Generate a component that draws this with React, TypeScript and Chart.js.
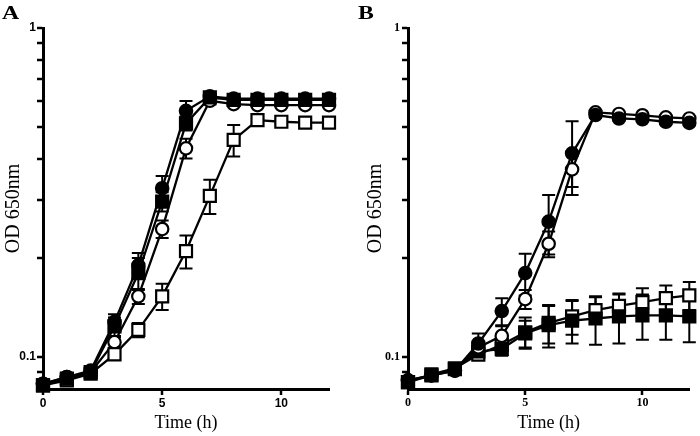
import React, { useEffect, useRef } from 'react';
import { Chart, registerables } from 'chart.js';

Chart.register(...registerables);

const hours = [0, 1, 2, 3, 4, 5, 6, 7, 8, 9, 10, 11, 12];
const xTickValues = [0, 5, 10];
const yTickValues = [0.09, 0.1, 0.2, 0.3, 0.4, 0.5, 0.6, 0.7, 0.8, 0.9, 1];
const yLabelValues = [0.1, 1];

// Panel A
const aFilledCircle = [0.083, 0.087, 0.091, 0.128, 0.19, 0.326, 0.56, 0.62, 0.61, 0.61, 0.61, 0.61, 0.61];
const aFilledCircleErr = [0.002, 0.002, 0.002, 0.007, 0.017, 0.029, 0.04, 0.01, 0.008, 0.008, 0.008, 0.008, 0.008];
const aFilledSquare = [0.082, 0.086, 0.09, 0.124, 0.18, 0.297, 0.513, 0.615, 0.605, 0.605, 0.605, 0.605, 0.605];
const aFilledSquareErr = [0.002, 0.002, 0.002, 0.008, 0.02, 0.02, 0.025, 0.01, 0.006, 0.006, 0.006, 0.006, 0.006];
const aOpenCircle = [0.083, 0.087, 0.09, 0.111, 0.153, 0.245, 0.431, 0.601, 0.587, 0.583, 0.583, 0.583, 0.583];
const aOpenCircleErr = [0.002, 0.002, 0.002, 0.004, 0.008, 0.015, 0.03, 0.015, 0.006, 0.006, 0.006, 0.006, 0.006];
const aOpenSquare = [0.082, 0.085, 0.089, 0.102, 0.121, 0.153, 0.21, 0.309, 0.457, 0.525, 0.519, 0.516, 0.516];
const aOpenSquareErr = [0.001, 0.002, 0.002, 0.003, 0.006, 0.014, 0.024, 0.037, 0.05, 0.01, 0.008, 0.008, 0.008];

// Panel B
const bFilledCircle = [0.085, 0.088, 0.091, 0.11, 0.138, 0.18, 0.258, 0.416, 0.544, 0.531, 0.528, 0.519, 0.515];
const bFilledCircleErr = [0.002, 0.002, 0.002, 0.008, 0.013, 0.026, 0.053, 0.105, 0.01, 0.008, 0.008, 0.008, 0.008];
const bOpenCircle = [0.085, 0.088, 0.091, 0.107, 0.116, 0.15, 0.221, 0.372, 0.554, 0.548, 0.543, 0.535, 0.531];
const bOpenCircleErr = [0.002, 0.002, 0.002, 0.004, 0.008, 0.01, 0.02, 0.043, 0.005, 0.005, 0.005, 0.005, 0.005];
const bFilledSquare = [0.084, 0.088, 0.092, 0.104, 0.106, 0.118, 0.125, 0.129, 0.131, 0.133, 0.134, 0.134, 0.133];
const bFilledSquareErr = [0.002, 0.002, 0.002, 0.004, 0.005, 0.011, 0.018, 0.019, 0.022, 0.023, 0.021, 0.021, 0.022];
const bOpenSquare = [0.084, 0.0886, 0.0925, 0.1018, 0.109, 0.119, 0.127, 0.133, 0.139, 0.143, 0.147, 0.151, 0.154];
const bOpenSquareErr = [0.002, 0.002, 0.002, 0.003, 0.004, 0.013, 0.017, 0.016, 0.013, 0.012, 0.015, 0.014, 0.015];

const SERIF = "'Liberation Serif', 'Times New Roman', serif";
const SANS = "'Liberation Sans', Arial, sans-serif";

const errorBarPlugin = {
  id: 'errorBars',
  beforeDatasetsDraw(chart: any) {
    const ctx = chart.ctx;
    const yScale = chart.scales.y;
    ctx.save();
    ctx.strokeStyle = '#000';
    ctx.lineWidth = 2;
    chart.data.datasets.forEach((ds: any, i: number) => {
      const meta = chart.getDatasetMeta(i);
      const errs: number[] = ds.errors || [];
      meta.data.forEach((pt: any, j: number) => {
        const v = ds.data[j].y;
        const e = errs[j] || 0;
        if (!e) return;
        const yTop = yScale.getPixelForValue(v + e);
        const yBot = yScale.getPixelForValue(Math.max(v - e, 0.0001));
        const x = pt.x;
        const cap = 6.5;
        ctx.beginPath();
        ctx.moveTo(x, yTop);
        ctx.lineTo(x, yBot);
        ctx.moveTo(x - cap, yTop);
        ctx.lineTo(x + cap, yTop);
        ctx.moveTo(x - cap, yBot);
        ctx.lineTo(x + cap, yBot);
        ctx.stroke();
      });
    });
    ctx.restore();
  },
};

function makeSeries(values: number[], errors: number[], filled: boolean, style: string) {
  return {
    data: hours.map((h, i) => ({ x: h, y: values[i] })),
    errors,
    borderColor: '#000',
    borderWidth: 2.3,
    tension: 0,
    clip: false,
    pointStyle: style,
    pointRadius: style === 'rect' ? 8.5 : 6.2,
    pointBackgroundColor: filled ? '#000' : '#fff',
    pointBorderColor: '#000',
    pointBorderWidth: 2.2,
  };
}

const gridOpts = {
  display: true,
  drawOnChartArea: false,
  drawTicks: true,
  tickLength: 6,
  color: '#000',
  lineWidth: 2,
  tickColor: '#000',
  tickWidth: 2.5,
};

function makeOptions(cfg: {
  yWidth: number;
  padRight: number;
  tickFont: string;
  tickPad: number;
  titlePadTop: number;
}) {
  return {
    responsive: false,
    animation: false,
    events: [],
    layout: { padding: { left: 0, right: cfg.padRight, top: 28, bottom: 0 } },
    plugins: { legend: { display: false }, tooltip: { enabled: false } },
    scales: {
      x: {
        type: 'linear',
        min: 0,
        max: 12,
        afterBuildTicks: (s: any) => {
          s.ticks = xTickValues.map((v) => ({ value: v }));
        },
        afterFit: (s: any) => {
          s.height = 47;
        },
        ticks: {
          color: '#000',
          padding: 1,
          font: { family: cfg.tickFont, size: 12, weight: 'bold' },
          callback: (v: any) => String(v),
        },
        grid: gridOpts,
        border: { display: true, color: '#000', width: 3 },
        title: {
          display: true,
          text: 'Time (h)',
          color: '#000',
          font: { family: SERIF, size: 18, lineHeight: 1.2 },
          padding: { top: 0, bottom: 2 },
        },
      },
      y: {
        type: 'logarithmic',
        min: 0.08,
        max: 1,
        afterBuildTicks: (s: any) => {
          s.ticks = yTickValues.map((v) => ({ value: v }));
        },
        afterFit: (s: any) => {
          s.width = cfg.yWidth;
        },
        ticks: {
          color: '#000',
          padding: cfg.tickPad,
          autoSkip: false,
          font: { family: cfg.tickFont, size: 12, weight: 'bold' },
          callback: (v: any) => (yLabelValues.some((l) => Math.abs(l - v) < 1e-9) ? String(v) : ''),
        },
        grid: gridOpts,
        border: { display: true, color: '#000', width: 3 },
        title: {
          display: true,
          text: 'OD 650nm',
          color: '#000',
          font: { family: SERIF, size: 20, lineHeight: 1.2 },
          padding: { top: cfg.titlePadTop, bottom: 0 },
        },
      },
    },
  };
}

function Panel(props: { datasets: any[]; options: any; left: number; letter: string; letterLeft: number }) {
  const ref = useRef<HTMLCanvasElement | null>(null);
  useEffect(() => {
    if (!ref.current) return;
    const chart = new Chart(ref.current, {
      type: 'line',
      data: { datasets: props.datasets },
      options: props.options,
      plugins: [errorBarPlugin],
    } as any);
    return () => chart.destroy();
  }, []);
  return (
    <div style={{ position: 'absolute', left: props.left, top: 0, width: 350, height: 436 }}>
      <canvas ref={ref} width={350} height={436} style={{ display: 'block' }} />
      <div
        style={{
          position: 'absolute',
          left: props.letterLeft,
          top: 2.5,
          fontFamily: SERIF,
          fontWeight: 'bold',
          fontSize: 19,
          lineHeight: '19px',
          color: '#000',
          transform: 'scaleX(1.25)',
          transformOrigin: 'left top',
        }}
      >
        {props.letter}
      </div>
    </div>
  );
}

export default function App() {
  const dsA = [
    makeSeries(aFilledSquare, aFilledSquareErr, true, 'rect'),
    makeSeries(aOpenSquare, aOpenSquareErr, false, 'rect'),
    makeSeries(aFilledCircle, aFilledCircleErr, true, 'circle'),
    makeSeries(aOpenCircle, aOpenCircleErr, false, 'circle'),
  ];
  const dsB = [
    makeSeries(bFilledCircle, bFilledCircleErr, true, 'circle'),
    makeSeries(bOpenCircle, bOpenCircleErr, false, 'circle'),
    makeSeries(bFilledSquare, bFilledSquareErr, true, 'rect'),
    makeSeries(bOpenSquare, bOpenSquareErr, false, 'rect'),
  ];
  const optA = makeOptions({ yWidth: 43, padRight: 21, tickFont: SANS, tickPad: 1, titlePadTop: 2 });
  const optB = makeOptions({ yWidth: 58, padRight: 8.5, tickFont: SERIF, tickPad: 2, titlePadTop: 14 });
  return (
    <div style={{ position: 'fixed', left: 0, top: 0, width: 700, height: 436, background: '#fff', overflow: 'hidden' }}>
      <Panel datasets={dsA} options={optA} left={0} letter="A" letterLeft={2} />
      <Panel datasets={dsB} options={optB} left={350} letter="B" letterLeft={8} />
    </div>
  );
}
